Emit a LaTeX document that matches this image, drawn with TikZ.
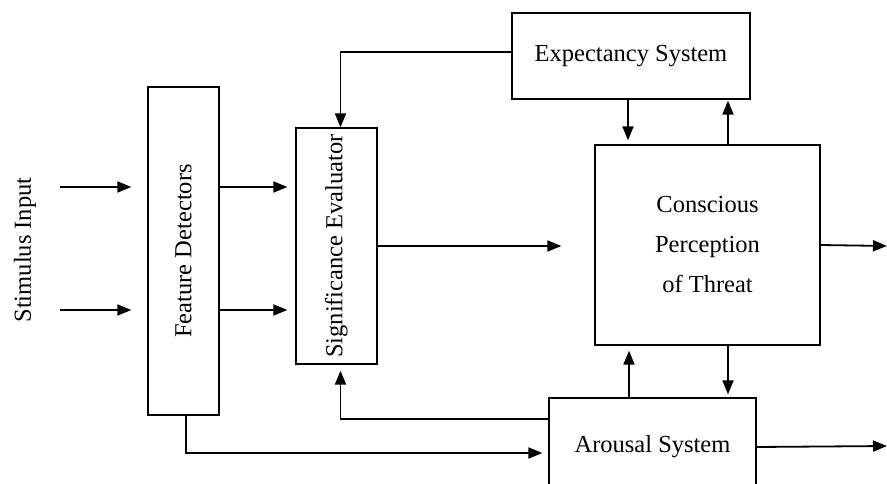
\documentclass[tikz,border=0pt]{standalone}
\usepackage{fontspec}
\setmainfont{Liberation Serif}
\usepackage{tikz}
\usetikzlibrary{arrows.meta,calc}

\tikzset{
  box/.style={draw, line width=1.3pt, inner sep=0pt, align=center},
  arr/.style={-{Triangle[length=14pt,width=11pt]}, line width=1.8pt}
}

\begin{document}
\begin{tikzpicture}[x=1pt, y=-1pt, every node/.style={font=\fontsize{24.5}{40}\selectfont}]
    \useasboundingbox (0,0) rectangle (887,484);
    \clip (0,0) rectangle (887,484);
    % blocks
    \node (stim) at (25,250) {\rotatebox{90}{Stimulus Input}};
    \node[box, minimum width=71pt, minimum height=328pt] (fd) at (183.5,251) {\rotatebox{90}{Feature Detectors}};
    \node[box, minimum width=81pt, minimum height=236pt] (sig) at (336.5,246) {\rotatebox{90}{Significance Evaluator}};
    \node[box, minimum width=238pt, minimum height=86pt] (exp) at (631,56) {Expectancy System};
    \node[box, minimum width=225pt, minimum height=200pt] (cpt) at (707.5,245) {Conscious\\Perception\\of Threat};
    \node[box, minimum width=207pt, minimum height=98pt] (aro) at (652.5,447) {Arousal System};
    % free ends
    \coordinate (in1) at (60,187);
    \coordinate (in2) at (60,310);
    \coordinate (out1) at (887,246);
    \coordinate (out2) at (887,446);
    % inputs
    \foreach \c in {in1,in2}{
      \draw[arr, shorten >=16pt] (\c) -- (\c -| fd.west);
      \draw[arr, shorten >=8pt] (\c -| fd.east) -- (\c -| sig.west);
    }
    \draw[arr, shorten >=33pt] (sig.east) -- (sig.east -| cpt.west);
    \draw[arr] (cpt.east) -- (out1);
    \draw[arr] (aro.east) -- (out2);
    % loops
    \draw[arr] (exp.west |- 0,52) -| ($(sig.north)+(4,0)$);
    \draw[arr, shorten >=4pt] (exp.south -| 628,0) -- (cpt.north -| 628,0);
    \draw[arr, shorten >=1pt] (cpt.north -| 728,0) -- (exp.south -| 728,0);
    \draw[arr, shorten >=5pt] (aro.north -| 629,0) -- (cpt.south -| 629,0);
    \draw[arr, shorten >=3pt] (cpt.south -| 728,0) -- (aro.north -| 728,0);
    \draw[arr, shorten >=6pt] (aro.west |- 0,419) -| ($(sig.south)+(4,0)$);
    \draw[arr, shorten >=6pt] ($(fd.south)+(2.5,0)$) |- (aro.west |- 0,453);
\end{tikzpicture}
\end{document}
